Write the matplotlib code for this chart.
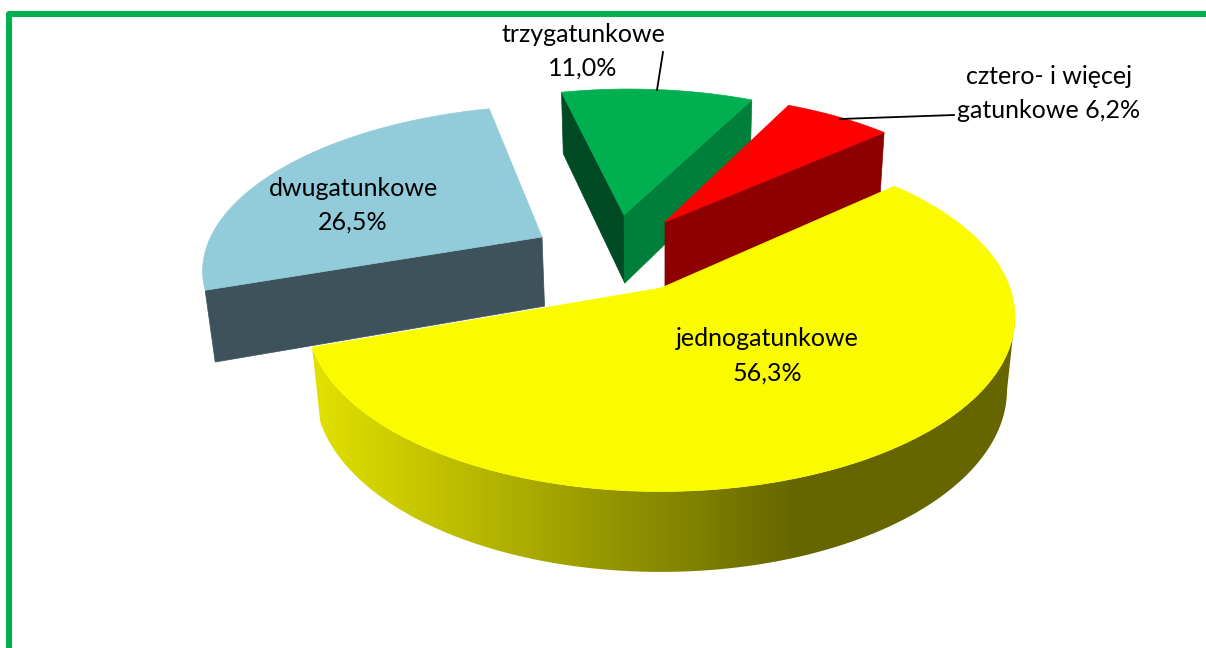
import numpy as np
import matplotlib
matplotlib.use('Agg')
import matplotlib.pyplot as plt
from matplotlib.colors import LinearSegmentedColormap
from matplotlib.patches import Polygon

# the four shares, order as they go round the pie clockwise
names = ['jednogatunkowe', 'dwugatunkowe', 'trzygatunkowe', 'cztero- i więcej\ngatunkowe']
values = [56.3, 26.5, 11.0, 6.2]
value_labels = ['56,3%', '26,5%', '11,0%', '6,2%']

top_colors = ['#FBFB00', '#92CBDA', '#00B050', '#FF0000']

# camera used for the tilted pie (pixels of the picture)
CX, CY = 663, 288
SCALE = 349
DIST = 5.2
SIN_E = 0.485
COS_E = np.sqrt(1 - SIN_E ** 2)
HEIGHT = 0.24
START_ANGLE = 48

# where the point of each exploded slice lands
apex_px = [(661, 288), (542, 237), (624, 215), (665, 222)]


def project(x, y, z=0.0):
    depth = DIST + y * COS_E - z * SIN_E
    sx = CX + SCALE * DIST * x / depth
    sy = CY - SCALE * DIST * (y * SIN_E + z * COS_E) / depth
    return sx, sy


def plane_offset(px, py):
    # reverse of project for z = 0
    u = (px - CX) / (SCALE * DIST)
    v = (CY - py) / (SCALE * DIST * SIN_E)
    y = v * DIST / (1 - v * COS_E)
    x = u * (DIST + y * COS_E)
    return x, y


def rim(angle, offset, z=0.0):
    a = np.radians(angle)
    return project(offset[0] + np.sin(a), offset[1] + np.cos(a), z)


fig = plt.figure(figsize=(12.06, 6.48), dpi=100)
ax = fig.add_axes([0, 0, 1, 1])

# frame on the left and the top
ax.plot([9, 9, 1206], [648, 14, 14], color='#00B050', linewidth=4.4, solid_joinstyle='round', zorder=1)

edges = np.cumsum([0] + [v * 3.6 for v in values]) + START_ANGLE
offsets = [plane_offset(*p) for p in apex_px]


def flat_side(offset, angle, color, z):
    # side wall between the slice point and the rim
    a0 = project(offset[0], offset[1], 0)
    a1 = project(offset[0], offset[1], -HEIGHT)
    r0 = rim(angle, offset, 0)
    r1 = rim(angle, offset, -HEIGHT)
    ax.fill([a0[0], r0[0], r1[0], a1[0]], [a0[1], r0[1], r1[1], a1[1]], color=color, linewidth=0.5, zorder=z)


def top_face(i, z):
    t = np.linspace(edges[i], edges[i + 1], 80)
    pts = [project(offsets[i][0], offsets[i][1], 0)] + [rim(a, offsets[i]) for a in t]
    ax.fill([p[0] for p in pts], [p[1] for p in pts], color=top_colors[i], linewidth=0.5, zorder=z)


# blue slice
flat_side(offsets[1], edges[1], '#3D525A', 2)
top_face(1, 3)

# green slice, two walls
flat_side(offsets[2], edges[2], '#004B23', 4)
flat_side(offsets[2], edges[3], '#007F3A', 4)
top_face(2, 5)

# red slice
flat_side(offsets[3], edges[4], '#8E0000', 6)
top_face(3, 7)

# yellow slice, outer wall shaded left to right, clipped to the wall outline
# only from the rightmost rim point on, the part before that is behind the top
t = np.linspace(edges[0], edges[1], 300)
t = t[np.argmax([rim(a, offsets[0])[0] for a in t]):]
wall = [rim(a, offsets[0]) for a in t] + [rim(a, offsets[0], -HEIGHT) for a in t[::-1]]
wall_patch = Polygon(wall, closed=True, facecolor='none', edgecolor='none', transform=ax.transData)
ax.add_patch(wall_patch)
shade = LinearSegmentedColormap.from_list('wall', [(0, '#E2E200'), (0.68, '#666600'), (1, '#666600')])
grad = ax.imshow(np.linspace(0, 1, 512).reshape(1, -1), cmap=shade, extent=(310, 1025, 600, 180),
                 aspect='auto', zorder=8)
grad.set_clip_path(wall_patch)
top_face(0, 9)

# leader lines
ax.plot([663, 657], [52, 90], color='black', linewidth=1.3, zorder=10)
ax.plot([840, 954], [119, 115], color='black', linewidth=1.3, zorder=10)

# labels
font = dict(family='Lato', fontsize=18, color='black', ha='center', va='center', zorder=11)
ax.text(767, 339, names[0], **font)
ax.text(767, 373, value_labels[0], **font)
ax.text(353, 188, names[1], **font)
ax.text(353, 222, value_labels[1], **font)
ax.text(583, 35, names[2], **font)
ax.text(583, 68, value_labels[2], **font)
first, second = names[3].split('\n')
ax.text(1049, 77, first, **font)
ax.text(1049, 110, second + ' ' + value_labels[3], **font)

ax.set_xlim(0, 1206)
ax.set_ylim(648, 0)
ax.axis('off')

fig.savefig('out.png', dpi=100)
